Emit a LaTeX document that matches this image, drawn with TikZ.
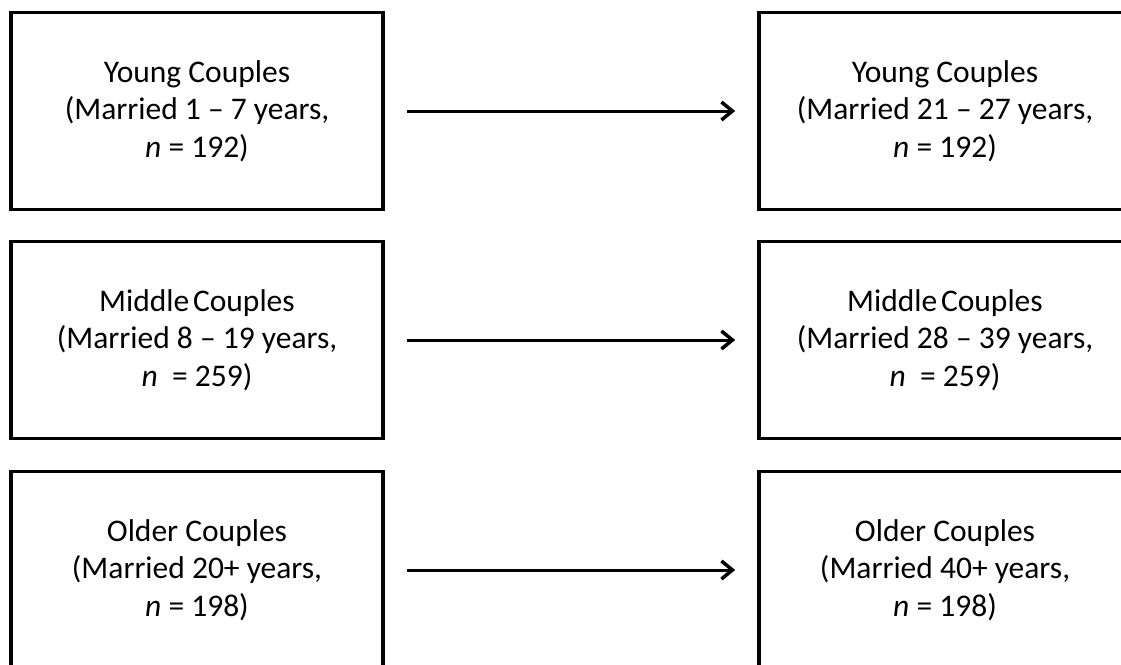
\documentclass[tikz,border=0pt]{standalone}
\usepackage{fontspec}
\setmainfont{Carlito}
\usetikzlibrary{arrows.meta}
\begin{document}
\begin{tikzpicture}[x=1pt,y=-1pt,
  groupbox/.style={draw=black,line width=3.6pt,rectangle,minimum width=372pt,
    minimum height=197pt,inner sep=0pt,align=center,
    font=\fontsize{31.5}{37.5}\selectfont},
  flow/.style={line width=3pt,-{Straight Barb[length=11pt,width=18pt,line width=3.5pt]},
    shorten <=22pt,shorten >=22pt}]
\useasboundingbox (0,0) rectangle (1121,664);
\clip (0,0) rectangle (1121,664);
% starting cohorts
\node[groupbox] (l1) at (197,111) {Young Couples\\(Married 1 – 7 years,\\\textit{n} = 192)};
\node[groupbox] (l2) at (197,340) {Middle\hspace{0.12em}Couples\\(Married 8 – 19 years,\\\textit{n}\ \ = 259)};
\node[groupbox] (l3) at (197,570) {Older Couples\\(Married 20+ years,\\\textit{n} = 198)};
% the same couples twenty years on
\node[groupbox] (r1) at (945,111) {Young Couples\\(Married 21 – 27 years,\\\textit{n} = 192)};
\node[groupbox] (r2) at (945,340) {Middle\hspace{0.12em}Couples\\(Married 28 – 39 years,\\\textit{n}\ \ = 259)};
\node[groupbox] (r3) at (945,570) {Older Couples\\(Married 40+ years,\\\textit{n} = 198)};
\draw[flow] (l1) -- (r1);
\draw[flow] (l2) -- (r2);
\draw[flow] (l3) -- (r3);
\end{tikzpicture}
\end{document}
